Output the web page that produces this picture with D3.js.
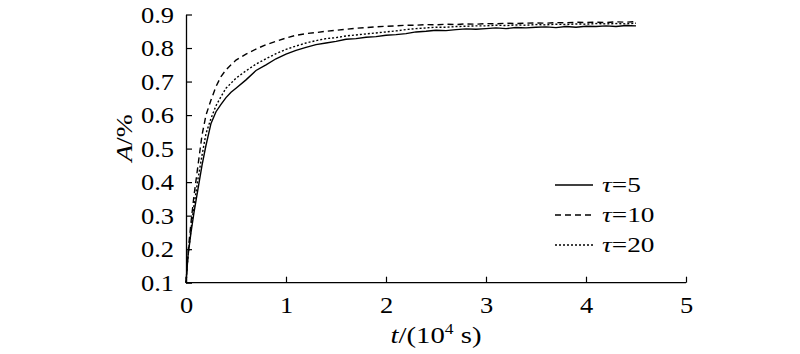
<!DOCTYPE html>
<html>
<head>
<meta charset="utf-8">
<script src="https://cdn.jsdelivr.net/npm/d3@7"></script>
<style>
  html, body { margin: 0; padding: 0; background: #fff; }
  svg text { font-family: "Liberation Serif", "Times New Roman", serif; fill: #000; }
</style>
</head>
<body>
<svg id="chart" width="800" height="354"></svg>
<script>
const time = [0, 0.02, 0.05, 0.08, 0.12, 0.16, 0.2, 0.25, 0.3, 0.35, 0.4, 0.45, 0.5, 0.6, 0.7, 0.8, 0.9, 1.0,
  1.1, 1.2, 1.3, 1.4, 1.5, 1.6, 1.7, 1.8, 1.9, 2.0, 2.1, 2.2, 2.3, 2.4, 2.5, 2.6, 2.7, 2.8, 2.9, 3.0,
  3.1, 3.2, 3.3, 3.4, 3.5, 3.6, 3.7, 3.8, 3.9, 4.0, 4.1, 4.2, 4.3, 4.4, 4.5];
const tau5 = [0.100, 0.18, 0.25, 0.31, 0.38, 0.45, 0.51, 0.575, 0.61, 0.632, 0.652, 0.668, 0.68, 0.705, 0.733, 0.750, 0.768, 0.782,
  0.793, 0.802, 0.810, 0.815, 0.820, 0.826, 0.828, 0.832, 0.834, 0.838, 0.840, 0.843, 0.848, 0.850, 0.853, 0.852, 0.855, 0.857, 0.856, 0.858,
  0.860, 0.858, 0.861, 0.860, 0.862, 0.863, 0.861, 0.864, 0.862, 0.865, 0.864, 0.866, 0.864, 0.867, 0.866];
const tau10 = [0.100, 0.19, 0.28, 0.36, 0.45, 0.54, 0.60, 0.645, 0.685, 0.715, 0.735, 0.75, 0.764, 0.782, 0.797, 0.810, 0.820, 0.830,
  0.838, 0.843, 0.846, 0.850, 0.853, 0.856, 0.859, 0.861, 0.863, 0.865, 0.866, 0.868, 0.868, 0.870, 0.869, 0.871, 0.870, 0.872, 0.871, 0.873,
  0.872, 0.874, 0.873, 0.874, 0.875, 0.874, 0.876, 0.875, 0.877, 0.876, 0.877, 0.876, 0.878, 0.877, 0.879];
const tau20 = [0.100, 0.18, 0.26, 0.33, 0.41, 0.48, 0.545, 0.59, 0.628, 0.655, 0.68, 0.695, 0.71, 0.732, 0.752, 0.768, 0.783, 0.796,
  0.806, 0.815, 0.822, 0.828, 0.831, 0.836, 0.839, 0.842, 0.845, 0.848, 0.851, 0.855, 0.858, 0.860, 0.862, 0.862, 0.864, 0.865, 0.866, 0.866,
  0.868, 0.867, 0.869, 0.868, 0.870, 0.869, 0.871, 0.870, 0.872, 0.871, 0.873, 0.872, 0.873, 0.872, 0.874];
const xTicks = [0, 1, 2, 3, 4, 5];
const yTicks = [0.1, 0.2, 0.3, 0.4, 0.5, 0.6, 0.7, 0.8, 0.9];
const seriesNames = ["5", "10", "20"];

const series = [
  { name: seriesNames[0], values: tau5, dash: null },
  { name: seriesNames[1], values: tau10, dash: "6,4" },
  { name: seriesNames[2], values: tau20, dash: "2,2" }
];

const svg = d3.select("#chart");
const x = d3.scaleLinear().domain([0, 5]).range([186, 686]);
const y = d3.scaleLinear().domain([0.1, 0.9]).range([282.7, 14.5]);
const fs = 23;
const sx = 1.15; // slight horizontal widening of the glyphs, as in the reference

// axes
const xAxis = svg.append("g").attr("transform", `translate(0,${y(0.1)})`)
  .call(d3.axisBottom(x).tickValues(xTicks).tickSizeInner(-6).tickSizeOuter(0).tickFormat(d3.format("d")));
const yAxis = svg.append("g").attr("transform", `translate(${x(0)},0)`)
  .call(d3.axisLeft(y).tickValues(yTicks).tickSizeInner(-6).tickSizeOuter(0).tickFormat(d3.format(".1f")));
[xAxis, yAxis].forEach(g => {
  g.attr("font-family", null).attr("font-size", null);
  g.select(".domain").attr("stroke", "#000").attr("stroke-width", 1.3);
  g.selectAll(".tick line").attr("stroke", "#000").attr("stroke-width", 1.2);
  g.selectAll(".tick text").attr("font-size", fs).attr("fill", "#000");
});
xAxis.selectAll(".tick text").attr("dy", null).attr("y", 30.5).attr("x", 0)
  .attr("transform", `scale(${sx},1)`);
yAxis.selectAll(".tick text").attr("dy", null).attr("y", 7.5).attr("x", -12 / sx)
  .attr("transform", `scale(${sx},1)`);
xAxis.select(".domain").attr("d", `M${x(0)},0H${x(5)}`);

// lines
const line = d3.line().x((d, i) => x(time[i])).y(d => y(d));
series.forEach(s => {
  svg.append("path").datum(s.values)
    .attr("d", line)
    .attr("fill", "none")
    .attr("stroke", "#000")
    .attr("stroke-width", 1.4)
    .attr("stroke-dasharray", s.dash);
});

// legend
const lg = svg.append("g");
series.forEach((s, i) => {
  const yy = 185 + i * 30;
  lg.append("line").attr("x1", 555).attr("x2", 593).attr("y1", yy).attr("y2", yy)
    .attr("stroke", "#000").attr("stroke-width", 1.4).attr("stroke-dasharray", s.dash);
  const t = lg.append("text").attr("transform", `translate(602,${yy + 7}) scale(1.3,1)`).attr("font-size", 21);
  t.append("tspan").attr("font-style", "italic").text("τ");
  t.append("tspan").text("=" + s.name);
});

// axis titles
const xl = svg.append("text").attr("transform", `translate(436,343) scale(1.25,1)`)
  .attr("text-anchor", "middle").attr("font-size", fs);
xl.append("tspan").attr("font-style", "italic").text("t");
xl.append("tspan").text("/(10");
xl.append("tspan").attr("font-size", 14).attr("dy", -9).text("4");
xl.append("tspan").attr("dy", 9).text(" s)");

const yl = svg.append("text").attr("transform", "translate(132,138) rotate(-90) scale(1.2,1)")
  .attr("text-anchor", "middle").attr("font-size", fs);
yl.append("tspan").attr("font-style", "italic").text("A");
yl.append("tspan").text("/%");
</script>
</body>
</html>
